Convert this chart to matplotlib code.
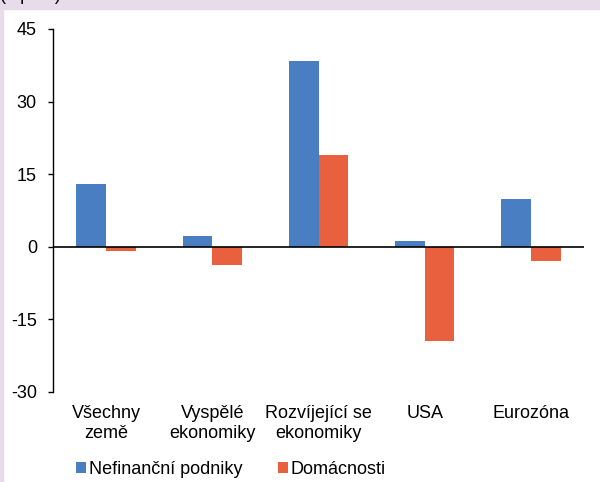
import matplotlib as mpl
mpl.use('Agg')
import matplotlib.pyplot as plt
from matplotlib.patches import Rectangle
import numpy as np

plt.rcParams['font.family'] = ['Liberation Sans', 'DejaVu Sans']

categories = ['Všechny\nzemě', 'Vyspělé\nekonomiky', 'Rozvíjející se\nekonomiky',
              'USA', 'Eurozóna']
podniky = [13.0, 2.2, 38.4, 1.2, 9.9]
domacnosti = [-0.8, -3.7, 19.0, -19.5, -2.9]
series_names = ['Nefinanční podniky', 'Domácnosti']
yticks = [-30, -15, 0, 15, 30, 45]

blue = '#4A7EC3'
orange = '#E9603F'
fs = 13

fig = plt.figure(figsize=(6.0, 4.82), dpi=100)

# lavender frame along the top and left edge
fig.patches.append(Rectangle((0, 1 - 9 / 482), 1, 9 / 482, transform=fig.transFigure,
                             color='#E6DCEA', zorder=0))
fig.patches.append(Rectangle((0, 0), 2.5 / 600, 1, transform=fig.transFigure,
                             color='#E6DCEA', zorder=0))
fig.text(0.0, 1 - 4 / 482, '(v p. b.)', fontsize=fs, va='bottom', ha='left')

ax = fig.add_axes([53 / 600, 1 - 392 / 482, 531 / 600, 363 / 482])

x = np.arange(len(categories))
w = 0.28
ax.bar(x - w / 2, podniky, w, color=blue, label=series_names[0], zorder=2)
ax.bar(x + w / 2, domacnosti, w, color=orange, label=series_names[1], zorder=2)

ax.axhline(0, color='black', lw=1.2, zorder=3)
ax.set_xlim(-0.5, len(categories) - 0.5)
ax.set_ylim(-30, 45)
ax.set_yticks(yticks)
ax.set_yticklabels([str(t) for t in yticks], fontsize=fs)
ax.tick_params(axis='y', length=3.6, width=1, pad=8, direction='out')

ax.set_xticks(x)
ax.set_xticklabels(categories, fontsize=fs, linespacing=1.3)
ax.tick_params(axis='x', length=0, pad=9)

for s in ['top', 'right', 'bottom']:
    ax.spines[s].set_visible(False)
ax.spines['left'].set_linewidth(1)

fig.legend(loc='center', bbox_to_anchor=(0.385, 1 - 469 / 482), ncol=2, frameon=False,
           fontsize=fs, handlelength=0.55, handleheight=0.55, handletextpad=0.15,
           columnspacing=2.0)

fig.savefig('out.png', dpi=100)
